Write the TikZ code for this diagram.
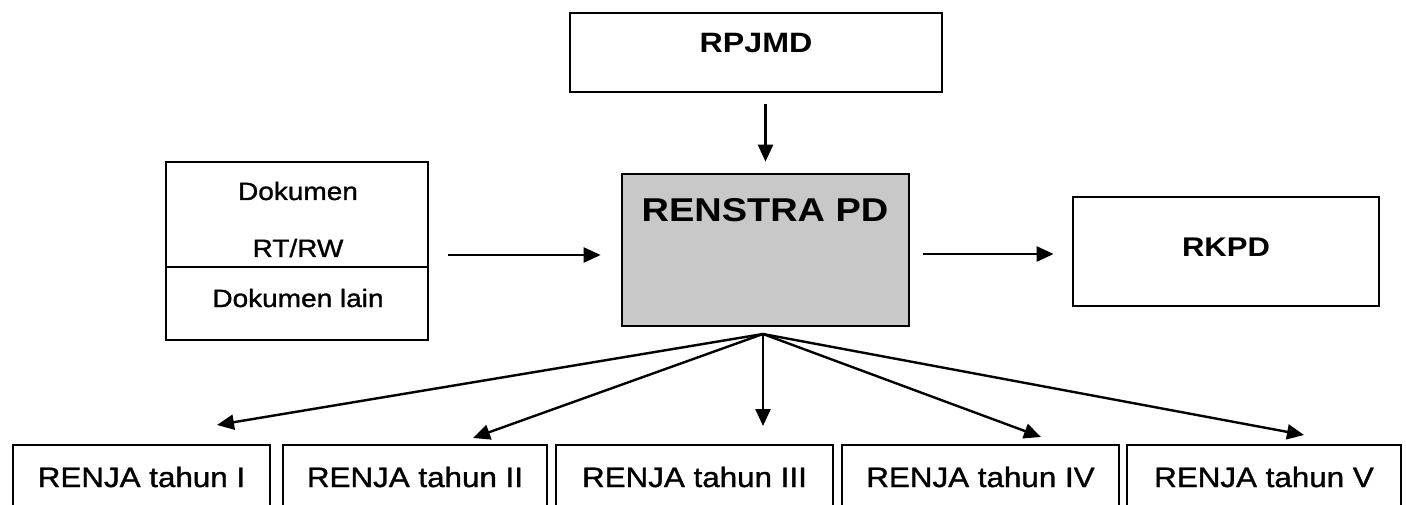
\documentclass[tikz,border=0pt]{standalone}
\usepackage{fontspec}
\setmainfont{Liberation Sans}[FakeStretch=1.15]
\newfontfamily\heavyreg{Liberation Sans}[FakeStretch=1.12, FakeBold=1.2]
\usetikzlibrary{arrows.meta,calc}
\definecolor{shade}{RGB}{200,200,200}
\tikzset{
  box/.style={draw=black, line width=2.7pt, rectangle, inner sep=0pt},
  lbl/.style={anchor=base, inner sep=0pt},
  arr/.style={line width=2.4pt, -{Triangle[length=17pt,width=15pt]}},
}
\begin{document}
\begin{tikzpicture}[x=1pt,y=-1pt]
\useasboundingbox (0,0) rectangle (1406,505);
\clip (0,0) rectangle (1406,505);
\fill[white] (0,0) rectangle (1406,505);
% boxes
\node[box, minimum width=372pt, minimum height=79pt] (rpjmd) at (756,52.5) {};
\node[box, fill=shade, minimum width=287pt, minimum height=152pt] (renstra) at (765.5,250) {};
\node[box, minimum width=262pt, minimum height=178pt] (dok) at (297,251) {};
\node[box, minimum width=306pt, minimum height=109pt] (rkpd) at (1226,251.5) {};
\node[box, minimum width=257pt, minimum height=90pt] (r1) at (141.5,490) {};
\node[box, minimum width=264pt, minimum height=90pt] (r2) at (415,490) {};
\node[box, minimum width=277pt, minimum height=90pt] (r3) at (694.5,490) {};
\node[box, minimum width=277pt, minimum height=90pt] (r4) at (980.5,490) {};
\node[box, minimum width=274pt, minimum height=90pt] (r5) at (1264,490) {};
% divider in left box
\draw[line width=2.7pt] (dok.west |- 0,267) -- (dok.east |- 0,267);
% texts
\node[lbl, font=\fontsize{28}{30}\selectfont\bfseries] (trpjmd) at (756,53) {RPJMD};
\node[lbl, font=\fontsize{33}{36}\selectfont\bfseries] (trenstra) at (765,222) {RENSTRA PD};
\node[lbl, font=\fontsize{27}{30}\selectfont\bfseries] (trkpd) at (1226,257) {RKPD};
\node[lbl, font=\heavyreg\fontsize{25}{28}\selectfont] (td1) at (298,200) {Dokumen};
\node[lbl, font=\heavyreg\fontsize{25}{28}\selectfont] (td2) at (298,257) {RT/RW};
\node[lbl, font=\heavyreg\fontsize{25}{28}\selectfont] (td3) at (298,307) {Dokumen lain};
\node[lbl, font=\heavyreg\fontsize{28}{30}\selectfont] (tr1) at (r1 |- 0,487) {RENJA tahun I};
\node[lbl, font=\heavyreg\fontsize{28}{30}\selectfont] (tr2) at (r2 |- 0,487) {RENJA tahun II};
\node[lbl, font=\heavyreg\fontsize{28}{30}\selectfont] (tr3) at (r3 |- 0,487) {RENJA tahun III};
\node[lbl, font=\heavyreg\fontsize{28}{30}\selectfont] (tr4) at (r4 |- 0,487) {RENJA tahun IV};
\node[lbl, font=\heavyreg\fontsize{28}{30}\selectfont] (tr5) at (r5 |- 0,487) {RENJA tahun V};
% connectors
\draw[arr, shorten <=11pt, shorten >=11pt] (renstra.north |- rpjmd.south) -- (renstra.north);
\draw[arr, shorten <=19pt, shorten >=20pt] ([yshift=-4pt]dok.east) -- ([yshift=-4pt]dok.east -| renstra.west);
\draw[arr, shorten <=13pt, shorten >=18pt] ([yshift=-4pt]renstra.east) -- ([yshift=-4pt]renstra.east -| rkpd.west);
\coordinate (fan) at (763,334);
\coordinate (t1) at (217,425);
\coordinate (t2) at (473,438);
\coordinate (t3) at (763,426);
\coordinate (t4) at (1041,437);
\coordinate (t5) at (1304,435);
\foreach \t in {t1,t2,t3,t4,t5} \draw[arr] (fan) -- (\t);
\end{tikzpicture}
\end{document}
